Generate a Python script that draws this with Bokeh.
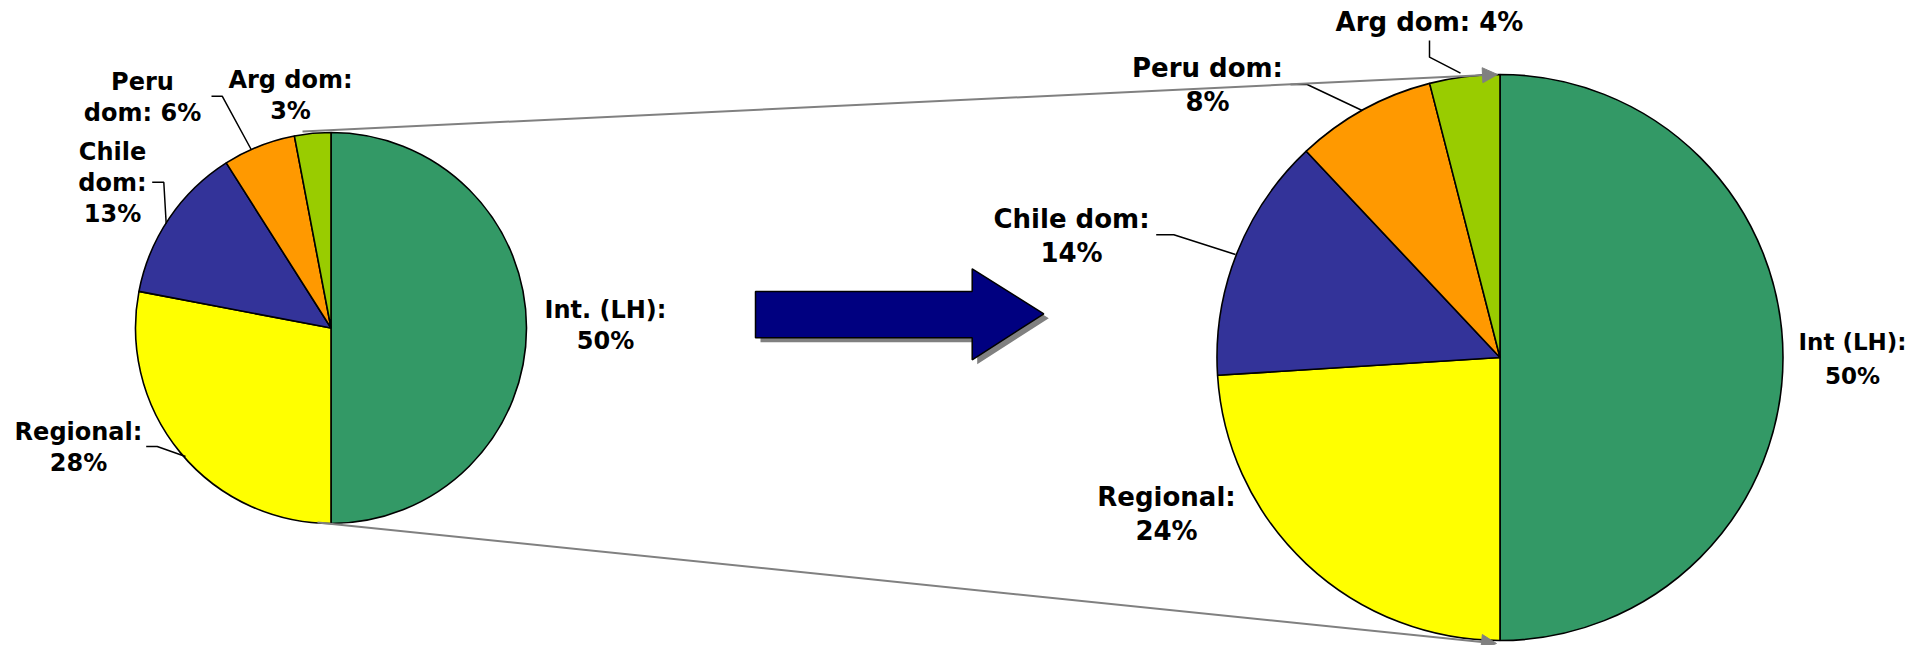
import textwrap
import numpy as np
from bokeh.plotting import figure
from bokeh.models import ColumnDataSource, Arrow, NormalHead
from bokeh.core.properties import value
from bokeh.embed import file_html
from bokeh.resources import INLINE

# ---------------- data ----------------
categories_left = ["Int. (LH)", "Regional", "Chile dom", "Peru dom", "Arg dom"]
values_left = [50, 28, 13, 6, 3]
categories_right = ["Int (LH)", "Regional", "Chile dom", "Peru dom", "Arg dom"]
values_right = [50, 24, 14, 8, 4]
slice_colors = ["#339966", "#FFFF00", "#333399", "#FF9900", "#99CC00"]

# ---------------- layout (pixel coordinates, y measured from top) ----------------
W, H = 1906, 645
LEFT_PIE = dict(cx=330.5, cy=327.5, r=195.5)
RIGHT_PIE = dict(cx=1499.5, cy=357.0, r=283.0)
TEXT_DY = -9

left_wrap = [10, 9, 5, 7, 8]
left_lab_x = [605, 78, 112, 142, 290]
left_lab_y0 = [318, 440, 160, 90, 88]
left_step = 31
left_font = ["24px"] * 5

right_wrap = [9, 9, 10, 9, 11]
right_lab_x = [1852, 1166, 1071, 1207, 1429]
right_lab_y0 = [350, 505, 227, 76, 30]
right_step = 34
right_font = ["23px", "26px", "26px", "26px", "26px"]

leaders = [
    [(211, 95.7), (221.7, 95.7), (250.7, 149)],      # left Peru
    [(151.7, 181.7), (163.3, 181.7), (165.7, 223.3)],  # left Chile
    [(145.7, 446), (156.7, 446), (185, 456)],          # left Regional
    [(1429, 40), (1429, 56.7), (1460, 72.7)],          # right Arg
    [(1290, 84), (1306.7, 84), (1361.7, 110)],         # right Peru
    [(1155.7, 234.3), (1173.3, 234.3), (1235, 254)],   # right Chile
]

zoom_lines = [((302, 131), (1497, 74)), ((317, 522), (1496, 643))]

arrow_pts = [(755, 291), (971.7, 291), (971.7, 268.3), (1043.3, 313.3),
             (971.7, 359.3), (971.7, 337.3), (755, 337.3)]
shadow_off = (5, 4.5)


def Y(py):
    return H - py


p = figure(width=W, height=H, x_range=(0, W), y_range=(0, H),
           output_backend="svg", toolbar_location=None, min_border=0,
           x_axis_location=None, y_axis_location=None)
p.grid.visible = False
p.outline_line_color = None
p.background_fill_color = "white"
p.border_fill_color = "white"


def draw_pie(geo, vals):
    total = float(sum(vals))
    cum = np.concatenate([[0.0], np.cumsum(vals)]) / total
    start = np.pi / 2 - 2 * np.pi * cum[:-1]
    end = np.pi / 2 - 2 * np.pi * cum[1:]
    src = ColumnDataSource(dict(start=start, end=end, color=slice_colors))
    p.wedge(x=geo["cx"], y=Y(geo["cy"]), radius=geo["r"],
            start_angle="start", end_angle="end", direction="clock",
            fill_color="color", line_color="black", line_width=1.6, source=src)


def draw_labels(cats, vals, wraps, xs, y0s, step, sizes):
    tx, ty, tt, ts = [], [], [], []
    for c, v, w, x, y0, s in zip(cats, vals, wraps, xs, y0s, sizes):
        lines = textwrap.wrap(f"{c}: {v}%", width=w)
        for i, ln in enumerate(lines):
            tx.append(x)
            ty.append(Y(y0 + i * step + TEXT_DY))
            tt.append(ln)
            ts.append(s)
    src = ColumnDataSource(dict(x=tx, y=ty, text=tt, size=ts))
    p.text(x="x", y="y", text="text", source=src,
           text_font=value("DejaVu Sans"), text_font_style="bold",
           text_font_size="size", text_align="center",
           text_baseline="alphabetic", text_color="black")


# big arrow with shadow
sx = [pt[0] + shadow_off[0] for pt in arrow_pts]
sy = [Y(pt[1] + shadow_off[1]) for pt in arrow_pts]
p.patch(sx, sy, fill_color="#808080", line_color=None)
p.patch([pt[0] for pt in arrow_pts], [Y(pt[1]) for pt in arrow_pts],
        fill_color="#000080", line_color="black", line_width=1.5)

draw_pie(LEFT_PIE, values_left)
draw_pie(RIGHT_PIE, values_right)

p.multi_line(xs=[[pt[0] for pt in l] for l in leaders],
             ys=[[Y(pt[1]) for pt in l] for l in leaders],
             line_color="black", line_width=1.5)

for (a, b) in zoom_lines:
    p.add_layout(Arrow(end=NormalHead(size=15, fill_color="#808080", line_color="#808080"),
                       x_start=a[0], y_start=Y(a[1]), x_end=b[0], y_end=Y(b[1]),
                       line_color="#808080", line_width=2))

draw_labels(categories_left, values_left, left_wrap, left_lab_x, left_lab_y0, left_step, left_font)
draw_labels(categories_right, values_right, right_wrap, right_lab_x, right_lab_y0, right_step, right_font)

open("out.html", "w").write(file_html(p, INLINE))
